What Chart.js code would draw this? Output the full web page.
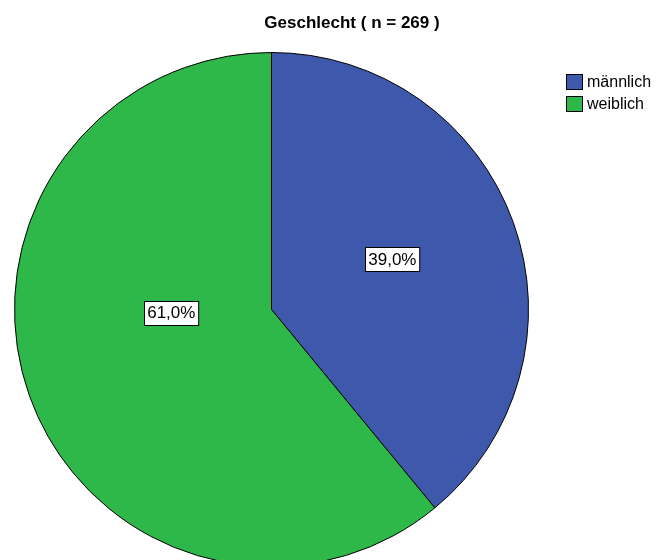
<!DOCTYPE html>
<html>
<head>
<meta charset="utf-8">
<script src="https://cdn.jsdelivr.net/npm/chart.js@4"></script>
<style>
  html, body { margin: 0; padding: 0; background: #fff; }
  #wrap { width: 660px; height: 560px; overflow: hidden; }
</style>
</head>
<body>
<div id="wrap"><canvas id="myChart" width="660" height="570"></canvas></div>
<script>
// Geschlecht, n = 269
var kategorien = ["männlich", "weiblich"];
var anzahl = [105, 164];
var farben = ["#3e58ac", "#2eb84a"];
var titel = "Geschlecht ( n = 269 )";

// where the percent boxes sit inside each slice (fraction of radius, angle shift in degrees)
var labelPos = [{ r: 0.51, a: -3 }, { r: 0.39, a: 18 }];

function prozent(v, total) {
  return (v / total * 100).toFixed(1).replace(".", ",") + "%";
}

var spssDeko = {
  id: "spssDeko",
  afterDraw: function (chart) {
    var c = chart.ctx;
    var ds = chart.data.datasets[0];
    var total = ds.data.reduce(function (a, b) { return a + b; }, 0);

    // title
    c.save();
    c.fillStyle = "#000";
    c.font = "bold 17px 'Liberation Sans', Arial, sans-serif";
    c.textAlign = "center";
    c.textBaseline = "middle";
    c.fillText(titel, 352, 23);

    // legend
    c.font = "16px 'Liberation Sans', Arial, sans-serif";
    c.textAlign = "left";
    for (var i = 0; i < chart.data.labels.length; i++) {
      var y = 74 + i * 22;
      c.fillStyle = ds.backgroundColor[i];
      c.fillRect(566, y, 17, 16);
      c.strokeStyle = "#000";
      c.lineWidth = 1;
      c.strokeRect(566.5, y + 0.5, 16, 15);
      c.fillStyle = "#000";
      c.fillText(chart.data.labels[i], 587, y + 9);
    }

    // percent labels
    var meta = chart.getDatasetMeta(0);
    c.font = "17px 'Liberation Sans', Arial, sans-serif";
    c.textAlign = "center";
    meta.data.forEach(function (arc, i) {
      var p = arc.getProps(["x", "y", "startAngle", "endAngle", "outerRadius"], true);
      var mid = (p.startAngle + p.endAngle) / 2 + labelPos[i].a * Math.PI / 180;
      var rr = p.outerRadius * labelPos[i].r;
      var lx = p.x + Math.cos(mid) * rr;
      var ly = p.y + Math.sin(mid) * rr;
      var txt = prozent(ds.data[i], total);
      var w = c.measureText(txt).width + 6;
      var h = 24;
      var bx = Math.round(lx - w / 2) + 0.5;
      var by = Math.round(ly - h / 2) + 0.5;
      c.fillStyle = "#fff";
      c.fillRect(bx, by, w, h);
      c.strokeStyle = "#000";
      c.strokeRect(bx, by, w, h);
      c.fillStyle = "#000";
      c.fillText(txt, lx, ly + 1);
    });
    c.restore();
  }
};

var ctx = document.getElementById("myChart");
var meinKuchen = new Chart(ctx, {
  type: "pie",
  data: {
    labels: kategorien,
    datasets: [{
      data: anzahl,
      backgroundColor: farben,
      borderColor: "#000",
      borderWidth: 1
    }]
  },
  options: {
    responsive: false,
    animation: false,
    layout: { padding: { left: 14, top: 52, right: 131, bottom: 3 } },
    plugins: {
      legend: { display: false },
      tooltip: { enabled: false }
    }
  },
  plugins: [spssDeko]
});
</script>
</body>
</html>
